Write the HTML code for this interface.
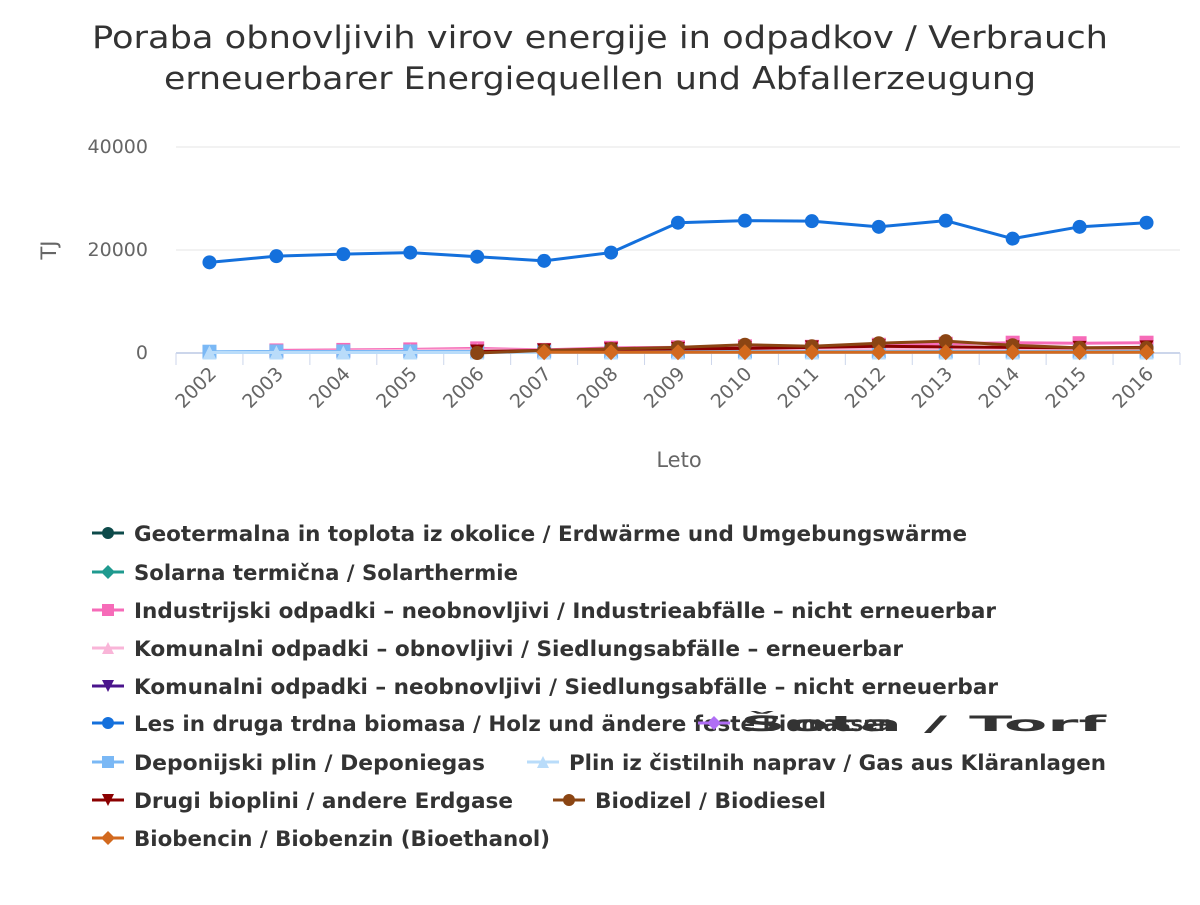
<!DOCTYPE html>
<html><head><meta charset="utf-8"><style>body{margin:0;background:#fff}svg{font-family:"DejaVu Sans","Liberation Sans",sans-serif}</style></head>
<body>
<svg id="c" width="1200" height="900">
<text x="600" y="48" text-anchor="middle" font-size="31" fill="#333" textLength="1016" lengthAdjust="spacingAndGlyphs">Poraba obnovljivih virov energije in odpadkov / Verbrauch</text>
<text x="600" y="89" text-anchor="middle" font-size="31" fill="#333" textLength="872" lengthAdjust="spacingAndGlyphs">erneuerbarer Energiequellen und Abfallerzeugung</text>
<g id="grid"></g><g id="series"></g><g id="legend"></g>
</svg>
<script>
const years=["2002","2003","2004","2005","2006","2007","2008","2009","2010","2011","2012","2013","2014","2015","2016"];
const yTicks=[0,20000,40000];
const biomass=[17600,18800,19200,19500,18700,17900,19500,25300,25700,25600,24500,25700,22200,24500,25300];
const industrial=[null,500,600,700,900,600,1000,1100,1300,1200,1600,1800,2000,1900,2000];
const municipalRen=[null,300,400,500,600,500,600,600,700,700,700,700,700,700,700];
const municipalNon=[null,null,null,null,null,null,null,null,null,null,null,null,null,null,null];
const geothermal=[null,null,null,null,null,null,null,null,null,null,null,null,null,null,null];
const solar=[null,null,null,null,null,null,null,null,null,null,null,null,null,null,null];
const peat=[null,null,null,null,null,null,null,null,null,null,null,null,null,null,null];
const landfill=[250,300,300,300,300,300,300,300,300,300,300,300,300,300,300];
const sewage=[100,100,100,100,100,100,100,100,100,100,100,100,100,100,100];
const otherBiogas=[null,null,null,null,300,500,700,800,900,1100,1300,1200,1100,1000,1100];
const biodiesel=[null,null,null,null,0,500,800,1100,1600,1300,1900,2300,1500,1000,1000];
const bioethanol=[null,null,null,null,null,150,150,150,150,150,150,150,150,150,150];
const series=[
 {n:"Geotermalna in toplota iz okolice / Erdwärme und Umgebungswärme",c:"#0d4a4a",m:"circle",d:geothermal,w:833},
 {n:"Solarna termična / Solarthermie",c:"#1f9a8f",m:"diamond",d:solar,w:384},
 {n:"Industrijski odpadki – neobnovljivi / Industrieabfälle – nicht erneuerbar",c:"#f66bb8",m:"square",d:industrial,w:862},
 {n:"Komunalni odpadki – obnovljivi / Siedlungsabfälle – erneuerbar",c:"#f9b5d8",m:"triangle",d:municipalRen,w:769},
 {n:"Komunalni odpadki – neobnovljivi / Siedlungsabfälle – nicht erneuerbar",c:"#4a148c",m:"tridown",d:municipalNon,w:864},
 {n:"Les in druga trdna biomasa / Holz und ändere feste Biomassen",c:"#1470dc",m:"circle",d:biomass,w:759},
 {n:"Šota / Torf",c:"#b06ef5",m:"diamond",d:peat,w:366},
 {n:"Deponijski plin / Deponiegas",c:"#7ab8f5",m:"square",d:landfill,w:351},
 {n:"Plin iz čistilnih naprav / Gas aus Kläranlagen",c:"#b9dcfa",m:"triangle",d:sewage,w:537},
 {n:"Drugi bioplini / andere Erdgase",c:"#8b0000",m:"tridown",d:otherBiogas,w:379},
 {n:"Biodizel / Biodiesel",c:"#8b4513",m:"circle",d:biodiesel,w:231},
 {n:"Biobencin / Biobenzin (Bioethanol)",c:"#d2691e",m:"diamond",d:bioethanol,w:416}];
const legendPos=[[92,533],[92,572],[92,610],[92,648],[92,686],[92,723],[698,723],[92,762],[527,762],[92,800],[553,800],[92,838]];
const NS="http://www.w3.org/2000/svg";
function el(t,a,p){const e=document.createElementNS(NS,t);for(const k in a)e.setAttribute(k,a[k]);p.appendChild(e);return e;}
const X0=176,X1=1180,Y0=353,YT=147;
const xS=i=>X0+(X1-X0)*(i+0.5)/years.length;
const yS=v=>Y0-(v/40000)*(Y0-YT);
const grid=document.getElementById('grid'),sg=document.getElementById('series'),lg=document.getElementById('legend');
yTicks.forEach(t=>{
 if(t>0){const l=el('line',{x1:X0,x2:X1,y1:yS(t),y2:yS(t),stroke:'#e6e6e6'},grid);}
 const tx=el('text',{x:148,y:yS(t)+6,'text-anchor':'end','font-size':19,fill:'#666'},grid);tx.textContent=t;
 
});
const ax=el('line',{x1:X0,x2:X1,y1:Y0,y2:Y0,stroke:'#ccd6eb','stroke-width':2},grid);

for(let i=0;i<=years.length;i++){const x=X0+(X1-X0)*i/years.length;const tk=el('line',{x1:x,x2:x,y1:Y0,y2:Y0+12,stroke:'#ccd6eb'},grid);}
years.forEach((y,i)=>{const x=xS(i)+8,yy=Y0+22;const t=el('text',{x:x,y:yy,'text-anchor':'end','font-size':19,fill:'#666',transform:`rotate(-45 ${x} ${yy})`},grid);t.textContent=y;
 });
const xt=el('text',{x:679,y:467,'text-anchor':'middle','font-size':21,fill:'#666'},grid);xt.textContent='Leto';

const yt=el('text',{x:56,y:250,'text-anchor':'middle','font-size':21,fill:'#666',transform:'rotate(-90 56 250)'},grid);yt.textContent='TJ';

function marker(m,x,y,c,p,r){let e;
 if(m==='circle')e=el('circle',{cx:x,cy:y,r:r,fill:c},p);
 else if(m==='square')e=el('rect',{x:x-r,y:y-r,width:2*r,height:2*r,fill:c},p);
 else if(m==='diamond')e=el('path',{d:`M${x} ${y-r-1}L${x+r+1} ${y}L${x} ${y+r+1}L${x-r-1} ${y}Z`,fill:c},p);
 else if(m==='triangle')e=el('path',{d:`M${x} ${y-r}L${x+r} ${y+r}L${x-r} ${y+r}Z`,fill:c},p);
 else e=el('path',{d:`M${x-r} ${y-r}L${x+r} ${y-r}L${x} ${y+r}Z`,fill:c},p);
 return e;}
series.forEach((s,si)=>{
 const g=el('g',{},sg);
 let d='';s.d.forEach((v,i)=>{if(v===null)return;d+=(d?'L':'M')+xS(i)+' '+yS(v);});
 if(d){const p=el('path',{d:d,fill:'none',stroke:s.c,'stroke-width':3},g);}
 s.d.forEach((v,i)=>{if(v===null)return;const mk=marker(s.m,xS(i),yS(v),s.c,g,7);});
 const [lx,ly]=legendPos[si];
 const li=el('g',{},lg);
 el('line',{x1:lx,x2:lx+32,y1:ly,y2:ly,stroke:s.c,'stroke-width':3},li);
 marker(s.m,lx+16,ly,s.c,li,6);
 const t=el('text',{x:lx+42,y:ly+8,'font-size':21,'font-weight':'bold',fill:'#333',textLength:s.w,lengthAdjust:'spacingAndGlyphs'},li);t.textContent=s.n;
});
</script>
</body></html>
